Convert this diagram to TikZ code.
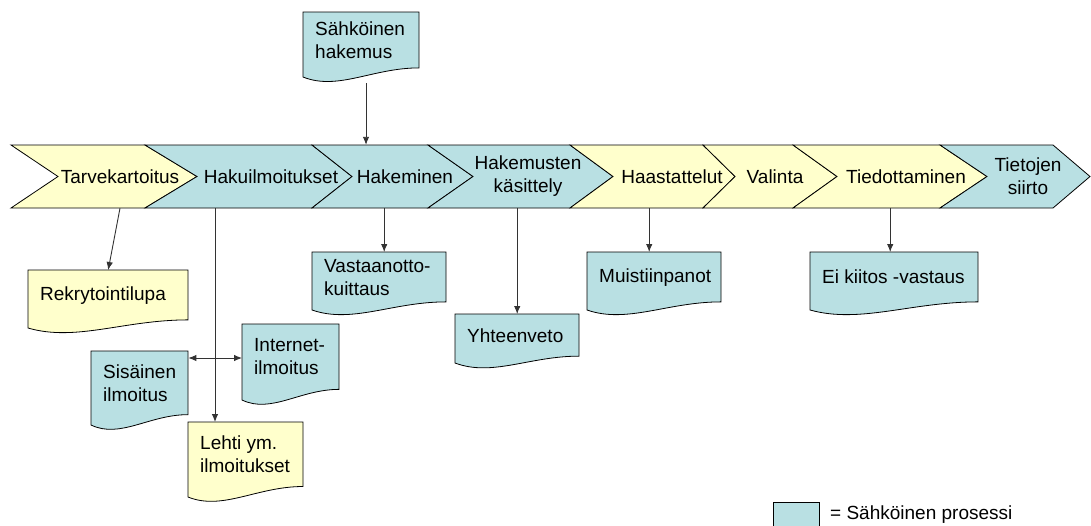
\documentclass[tikz,border=0pt]{standalone}
\usepackage{fontspec}
\setmainfont{Liberation Sans}
\usetikzlibrary{arrows.meta}

\definecolor{sahkoblue}{RGB}{185,224,227}
\definecolor{paperyellow}{RGB}{255,255,204}
\newcommand{\diagfont}{\fontsize{19}{23}\selectfont}

\tikzset{
    phase/.style={minimum height=63pt, inner sep=0pt, align=center, font=\diagfont},
    chevron/.style={draw=black, line width=0.8pt},
    arr/.style={draw=black!80, line width=0.9pt, -{Latex[length=8pt,width=6.5pt]}},
    arrboth/.style={draw=black!80, line width=0.9pt, {Latex[length=8pt,width=6.5pt]}-{Latex[length=8pt,width=6.5pt]}},
    paperbox/.style={inner sep=0pt, anchor=north west},
    papertext/.style={inner sep=0pt, anchor=west, align=left, font=\diagfont},
}

% name, fill, left, top, right, bottom
\newcommand{\paperdoc}[7]{%
    \pgfmathsetmacro\docrise{0.14*(#6-#4)}
    \pgfmathsetmacro\docwd{#5-#3}
    \pgfmathsetmacro\docht{#6-#4-\docrise}
    \filldraw[fill=#2, draw=black, line width=0.8pt] (#3,#4) -- (#5,#4) -- (#5,#6-\docrise)
        .. controls ({#5-0.4*(#5-#3)},#6-\docrise) and ({#3+0.3*(#5-#3)},#6+14) .. (#3,#6) -- cycle;
    \node[paperbox, minimum width=\docwd pt, minimum height=\docht pt] (#1) at (#3,#4) {};
    \node[papertext] (#1-text) at ([xshift=12pt]#1.west) {#7};
}

\begin{document}
\begin{tikzpicture}[x=1pt, y=-1pt]
    \useasboundingbox (0,0) rectangle (1091,525);

    \filldraw[chevron, fill=paperyellow] (11,145) -- (145,145) -- (197,176.5) -- (145,208) -- (11,208) -- (58,176.5) -- cycle;
    \filldraw[chevron, fill=sahkoblue] (145,145) -- (312,145) -- (352,176.5) -- (312,208) -- (145,208) -- (197,176.5) -- cycle;
    \filldraw[chevron, fill=sahkoblue] (312,145) -- (428,145) -- (473,176.5) -- (428,208) -- (312,208) -- (352,176.5) -- cycle;
    \filldraw[chevron, fill=sahkoblue] (428,145) -- (570,145) -- (613,176.5) -- (570,208) -- (428,208) -- (473,176.5) -- cycle;
    \filldraw[chevron, fill=paperyellow] (570,145) -- (703,145) -- (735,176.5) -- (703,208) -- (570,208) -- (613,176.5) -- cycle;
    \filldraw[chevron, fill=paperyellow] (703,145) -- (793,145) -- (837,176.5) -- (793,208) -- (703,208) -- (735,176.5) -- cycle;
    \filldraw[chevron, fill=paperyellow] (793,145) -- (940,145) -- (987,176.5) -- (940,208) -- (793,208) -- (837,176.5) -- cycle;
    \filldraw[chevron, fill=sahkoblue] (940,145) -- (1053,145) -- (1090,176.5) -- (1053,208) -- (940,208) -- (987,176.5) -- cycle;

    \node[phase] (tarve) at (120,176.5) {Tarvekartoitus};
    \node[phase] (haku) at (271,176.5) {Hakuilmoitukset};
    \node[phase] (hakeminen) at (405,176.5) {Hakeminen};
    \node[phase] (kasittely) at (528,176.5) {Hakemusten\\käsittely};
    \node[phase] (haastattelut) at (672,176.5) {Haastattelut};
    \node[phase] (valinta) at (775,176.5) {Valinta};
    \node[phase] (tiedotus) at (906,176.5) {Tiedottaminen};
    \node[phase] (siirto) at (1028,176.5) {Tietojen\\siirto};

    \paperdoc{hakemus}{sahkoblue}{303}{12}{419}{77}{Sähköinen\\hakemus}
    \paperdoc{rekry}{paperyellow}{28}{270}{188}{328}{Rekrytointilupa}
    \paperdoc{sisainen}{sahkoblue}{91}{351}{188}{425}{Sisäinen\\ilmoitus}
    \paperdoc{internet}{sahkoblue}{242}{324}{339}{400}{Internet-\\ilmoitus}
    \paperdoc{lehti}{paperyellow}{188}{422}{303}{497}{Lehti ym.\\ilmoitukset}
    \paperdoc{kuittaus}{sahkoblue}{312}{252}{446}{310}{Vastaanotto-\\kuittaus}
    \paperdoc{yhteenveto}{sahkoblue}{455}{314}{579}{363}{Yhteenveto}
    \paperdoc{muistiin}{sahkoblue}{587}{252}{721}{310}{Muistiinpanot}
    \paperdoc{eikiitos}{sahkoblue}{810}{252}{978}{310}{Ei kiitos -vastaus}

    \coordinate (hakemusdrop) at (366,83);
    \coordinate (hakudrop) at (215,208);
    \coordinate (ilmocross) at (215,358);

    \draw[arr] (hakemusdrop) -- (hakemusdrop |- hakeminen.north);
    \draw[arr] (tarve.south) -- (rekry.north);
    \draw[arr] (hakudrop) -- (hakudrop |- lehti.north);
    \draw[arrboth] (ilmocross -| sisainen.east) -- (ilmocross -| internet.west);
    \draw[arr] ([xshift=5pt]kuittaus.north |- hakeminen.south) -- ([xshift=5pt]kuittaus.north);
    \draw[arr] (yhteenveto.north |- kasittely.south) -- (yhteenveto.north);
    \draw[arr] ([xshift=-5pt]muistiin.north |- haastattelut.south) -- ([xshift=-5pt]muistiin.north);
    \draw[arr] ([xshift=-4pt]eikiitos.north |- tiedotus.south) -- ([xshift=-4pt]eikiitos.north);

    \node[draw=black, line width=0.8pt, fill=sahkoblue, anchor=north west, minimum width=46pt, minimum height=35pt, inner sep=0pt] (legendbox) at (773,502) {};
    \node[papertext] (legendtext) at (830,515) {= Sähköinen prosessi};
\end{tikzpicture}
\end{document}
